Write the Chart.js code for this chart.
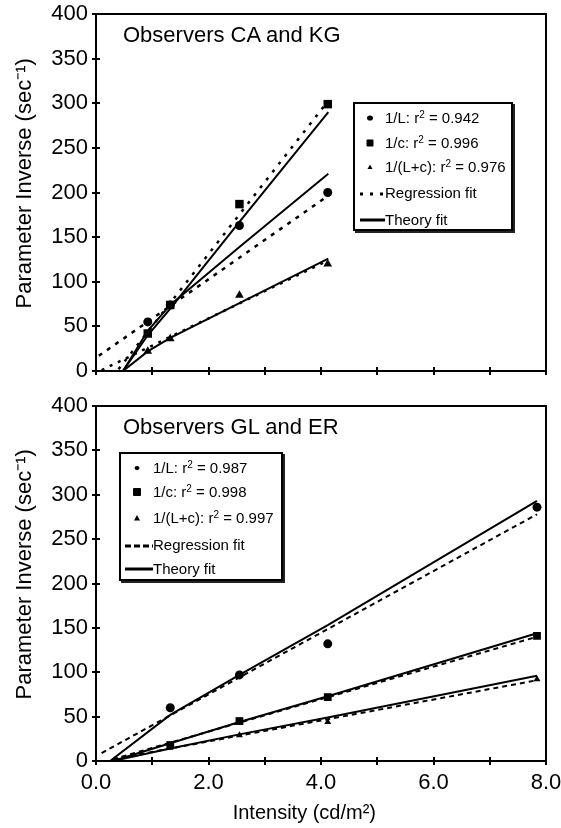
<!DOCTYPE html>
<html><head><meta charset="utf-8">
<script src="https://cdn.jsdelivr.net/npm/chart.js@4.4.1/dist/chart.umd.min.js"></script>
<style>
html,body{margin:0;padding:0;background:#fff;}
#wrap{position:relative;width:561px;height:828px;overflow:hidden;font-family:'Liberation Sans',Arial,sans-serif;color:#000;}
canvas{position:absolute;left:0;}
.ttl{position:absolute;font-size:22px;line-height:22px;white-space:nowrap;}
.lg{position:absolute;border:2px solid #000;box-shadow:2px 2px 0 #222;background:#fff;box-sizing:border-box;}
.row{position:absolute;font-size:15px;line-height:18px;white-space:nowrap;}
.row sup{font-size:10px;line-height:0;vertical-align:5px;}
.mk{position:absolute;display:block;}
</style></head>
<body><div id="wrap">
<canvas id="c1" width="561" height="390" style="top:0"></canvas>
<canvas id="c2" width="561" height="438" style="top:390px"></canvas>
<div class="ttl" style="left:123px;top:24px">Observers CA and KG</div>
<div class="ttl" style="left:123px;top:416px">Observers GL and ER</div>
<div id="lg1" class="lg" style="left:353px;top:102px;width:160px;height:129px"></div>
<div id="lg2" class="lg" style="left:119px;top:452px;width:164px;height:129px"></div>
</div>
<script>
// ---------- data ----------
const seriesNames = ['1/L', '1/c', '1/(L+c)'];
const fitNames = ['Regression fit', 'Theory fit'];
const xTickValues = [0, 2, 4, 6, 8];
const xTickLabels = ['0.0', '2.0', '4.0', '6.0', '8.0'];
const yAxisTitle = 'Parameter Inverse (sec\u207B\u00B9)';
const xAxisTitle = 'Intensity (cd/m\u00B2)';

// Top panel: Observers CA and KG
const r2Top = [0.942, 0.996, 0.976];
const intensityTop = [0.92, 1.32, 2.55, 4.12];
const invLTop = [55, 74, 163, 200];
const invCTop = [42, 74, 187, 299];
const invLcTop = [22, 36, 85, 120];
const regXTopL = [0.05, 4.05];
const regYTopL = [17, 193];
const regXTopC = [0.4, 4.12];
const regYTopC = [2, 302];
const regXTopLc = [0.1, 4.13];
const regYTopLc = [1, 124];
const thXTop = [0.48, 0.92, 1.32, 2.55, 4.13];
const thYTopL = [0, 45, 74, 139, 221];
const thYTopC = [0, 40, 70, 167, 290];
const thYTopLc = [0, 22, 37, 76, 126];

// Bottom panel: Observers GL and ER
const r2Bottom = [0.987, 0.998, 0.997];
const intensityBottom = [1.32, 2.55, 4.12, 7.84];
const invLBottom = [60, 97, 132, 286];
const invCBottom = [18, 45, 72, 141];
const invLcBottom = [15, 29, 44, 92];
const regXBottomL = [0.1, 7.84];
const regYBottomL = [9, 278];
const regXBottomC = [0.3, 7.84];
const regYBottomC = [2, 140];
const regXBottomLc = [0.3, 7.84];
const regYBottomLc = [2, 91];
const thXBottomL = [0.25, 1.32, 2.55, 4.12, 7.84];
const thYBottomL = [0, 52, 97, 153, 293];
const thXBottom = [0.3, 1.32, 2.55, 4.12, 7.84];
const thYBottomC = [0, 20, 44, 73, 144];
const thYBottomLc = [0, 14, 30, 49, 96];

// ---------- helpers ----------
Chart.defaults.font.family = "'Liberation Sans', Arial, sans-serif";
Chart.defaults.color = '#000';

const pts = (xs, ys) => xs.map((x, i) => ({x: x, y: ys[i]}));

const framePlugin = {
  id: 'frame',
  beforeDatasetsDraw(chart) {
    const {ctx, chartArea: a, scales} = chart;
    const x = scales.x, y = scales.y;
    ctx.save();
    ctx.strokeStyle = '#000';
    ctx.lineWidth = 2;
    ctx.strokeRect(a.left, a.top, a.right - a.left, a.bottom - a.top);
    ctx.beginPath();
    x.ticks.forEach(t => {
      const px = Math.round(x.getPixelForValue(t.value));
      ctx.moveTo(px, a.bottom - 4); ctx.lineTo(px, a.bottom + 4);
    });
    y.ticks.forEach(t => {
      const py = Math.round(y.getPixelForValue(t.value));
      ctx.moveTo(a.left - 4, py); ctx.lineTo(a.left + 4, py);
    });
    ctx.stroke();
    ctx.restore();
  }
};

function markerSet(label, xs, ys, style, r) {
  return {label, data: pts(xs, ys), pointStyle: style, pointRadius: r,
    backgroundColor: '#000', borderColor: '#000', pointBorderWidth: 0, showLine: false};
}
function lineSet(label, xs, ys, dash, w) {
  return {label, data: pts(xs, ys), showLine: true, pointRadius: 0,
    borderColor: '#000', borderWidth: w, borderDash: dash, fill: false, tension: 0};
}
function noPad(s) { s.paddingTop = 0; s.paddingBottom = 0; s.paddingLeft = 0; s.paddingRight = 0; }

function makeChart(id, datasets, cfg) {
  return new Chart(document.getElementById(id), {
    type: 'scatter',
    data: {datasets},
    options: {
      responsive: false, animation: false, events: [],
      layout: {padding: {left: 0, right: 15, top: cfg.top, bottom: 0}, autoPadding: false},
      plugins: {legend: {display: false}, tooltip: {enabled: false}},
      scales: {
        x: {
          type: 'linear', min: 0, max: 8,
          grid: {display: false, drawTicks: false}, border: {display: false},
          ticks: {display: cfg.showX, stepSize: 1, padding: 9, autoSkip: false, maxRotation: 0,
            font: {size: 22}, color: '#000',
            callback: v => { const i = xTickValues.indexOf(v); return i >= 0 ? xTickLabels[i] : ''; }},
          title: {display: cfg.showX, text: xAxisTitle + '      ', font: {size: 20}, color: '#000', padding: {top: 0, bottom: 3}},
          afterFit: s => { s.height = cfg.xh; noPad(s); }
        },
        y: {
          type: 'linear', min: 0, max: 400,
          grid: {display: false, drawTicks: false}, border: {display: false},
          ticks: {stepSize: 50, padding: 8, font: {size: 22}, color: '#000'},
          title: {display: true, text: '   ' + yAxisTitle, font: {size: 22}, color: '#000', padding: {top: 12, bottom: 0}},
          afterFit: s => { s.width = 96; noPad(s); }
        }
      }
    },
    plugins: [framePlugin]
  });
}

// ---------- charts ----------
makeChart('c1', [
  markerSet(seriesNames[1], intensityTop, invCTop, 'rect', 6),
  markerSet(seriesNames[0], intensityTop, invLTop, 'circle', 4.5),
  markerSet(seriesNames[2], intensityTop, invLcTop, 'triangle', 5),
  lineSet('Theory ' + seriesNames[0], thXTop, thYTopL, [], 2),
  lineSet('Theory ' + seriesNames[1], thXTop, thYTopC, [], 2),
  lineSet('Theory ' + seriesNames[2], thXTop, thYTopLc, [], 2),
  lineSet('Regression ' + seriesNames[0], regXTopL, regYTopL, [4, 6], 2.5),
  lineSet('Regression ' + seriesNames[1], regXTopC, regYTopC, [3, 7], 2.5),
  lineSet('Regression ' + seriesNames[2], regXTopLc, regYTopLc, [3, 6], 2.5)
], {top: 14, xh: 19, showX: false});

makeChart('c2', [
  markerSet(seriesNames[1], intensityBottom, invCBottom, 'rect', 5.5),
  markerSet(seriesNames[0], intensityBottom, invLBottom, 'circle', 4.5),
  markerSet(seriesNames[2], intensityBottom, invLcBottom, 'triangle', 4),
  lineSet('Theory ' + seriesNames[0], thXBottomL, thYBottomL, [], 2),
  lineSet('Theory ' + seriesNames[1], thXBottom, thYBottomC, [], 2),
  lineSet('Theory ' + seriesNames[2], thXBottom, thYBottomLc, [], 2),
  lineSet('Regression ' + seriesNames[0], regXBottomL, regYBottomL, [5, 4], 2),
  lineSet('Regression ' + seriesNames[1], regXBottomC, regYBottomC, [5, 4], 2),
  lineSet('Regression ' + seriesNames[2], regXBottomLc, regYBottomLc, [5, 4], 2)
], {top: 16, xh: 67, showX: true});

// ---------- legends (HTML, real text) ----------
function markerSvg(kind, s) {
  if (kind === 'circle') return `<svg class="mk" width="10" height="10"><ellipse cx="5" cy="5" rx="${s}" ry="${s * 0.85}" fill="#000"/></svg>`;
  if (kind === 'rect') return `<svg class="mk" width="10" height="10"><rect x="${5 - s}" y="${5 - s}" width="${2 * s}" height="${2 * s}" rx="1" fill="#000"/></svg>`;
  return `<svg class="mk" width="10" height="10"><polygon points="5,${5 - s} ${5 + s},${5 + s * 0.8} ${5 - s},${5 + s * 0.8}" fill="#000"/></svg>`;
}
function buildLegend(el, r2, g) {
  const kinds = ['circle', 'rect', 'triangle'];
  let html = '';
  for (let i = 0; i < 3; i++) {
    const cy = g.rows[i];
    const svg = markerSvg(kinds[i], g.ms[i]).replace('class="mk"', `class="mk" style="left:${g.mx - 5}px;top:${cy - 5}px"`);
    html += svg;
    html += `<div class="row" style="left:${g.tx}px;top:${cy - 9}px">${seriesNames[i]}: r<sup>2</sup> = ${r2[i].toFixed(3)}</div>`;
  }
  for (let j = 0; j < 2; j++) {
    const cy = g.rows[3 + j];
    const dash = j === 0 ? `stroke-dasharray="${g.dash}"` : '';
    html += `<svg class="mk" style="left:${g.l0}px;top:${cy - 4}px" width="${g.l1 - g.l0}" height="8"><line x1="0" y1="${j === 0 ? 5 : 4}" x2="${g.l1 - g.l0}" y2="${j === 0 ? 5 : 4}" stroke="#000" stroke-width="3" ${dash}/></svg>`;
    html += `<div class="row" style="left:${g.l1}px;top:${cy - 9}px">${fitNames[j]}</div>`;
  }
  el.innerHTML = html;
}
buildLegend(document.getElementById('lg1'), r2Top,
  {rows: [14, 39, 63, 89, 116], mx: 15, tx: 30, ms: [3, 3.5, 2.5], l0: 5, l1: 30, dash: '3 7'});
buildLegend(document.getElementById('lg2'), r2Bottom,
  {rows: [14, 38, 64, 91, 115], mx: 16, tx: 32, ms: [2.5, 4, 3], l0: 4, l1: 32, dash: '6 3'});
</script>
</body></html>
